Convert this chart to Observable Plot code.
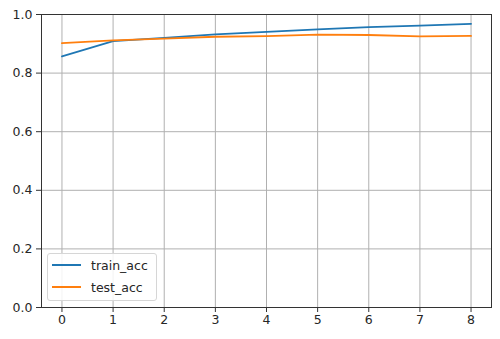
<!DOCTYPE html>
<html>
<head>
<meta charset="utf-8">
<script src="https://cdn.jsdelivr.net/npm/d3@7"></script>
<script src="https://cdn.jsdelivr.net/npm/@observablehq/plot@0.6"></script>
<style>
  html, body { margin: 0; padding: 0; background: #fff; }
  #wrap { position: relative; width: 500px; height: 339px; font-family: "DejaVu Sans", sans-serif; }
  #legend {
    position: absolute; left: 47px; top: 253px; width: 110px; height: 48px;
    border: 1px solid #d6d6d6; border-radius: 3px; background: rgba(255,255,255,0.85);
    box-sizing: border-box; font-size: 12.5px; color: #262626;
  }
  .row { position: absolute; left: 4px; height: 16px; display: flex; align-items: center; }
  .sw { width: 29px; height: 0; border-top: 2px solid; margin-right: 10px; }
</style>
</head>
<body>
<div id="wrap"></div>
<script>
const epochs = [0, 1, 2, 3, 4, 5, 6, 7, 8];
const trainAcc = [0.857, 0.909, 0.920, 0.932, 0.941, 0.949, 0.957, 0.962, 0.968];
const testAcc = [0.902, 0.912, 0.918, 0.924, 0.926, 0.931, 0.930, 0.925, 0.927];
const seriesNames = ["train_acc", "test_acc"];
const seriesColors = ["#1f77b4", "#ff7f0e"];
const xTicks = [0, 1, 2, 3, 4, 5, 6, 7, 8];
const yTicks = [0, 0.2, 0.4, 0.6, 0.8, 1.0];

const rows = [];
epochs.forEach((e, i) => {
  rows.push({epoch: e, acc: trainAcc[i], series: seriesNames[0]});
  rows.push({epoch: e, acc: testAcc[i], series: seriesNames[1]});
});

const chart = Plot.plot({
  width: 500,
  height: 339,
  marginLeft: 41,
  marginTop: 14,
  marginRight: 9,
  marginBottom: 32,
  style: {fontFamily: "DejaVu Sans, sans-serif", fontSize: "12.5px", color: "#262626", background: "#fff"},
  x: {domain: [-0.4, 8.4], ticks: xTicks},
  y: {domain: [0, 1], ticks: yTicks},
  color: {domain: seriesNames, range: seriesColors},
  marks: [
    Plot.gridX(xTicks, {stroke: "#b0b0b0", strokeOpacity: 1, strokeWidth: 1}),
    Plot.gridY(yTicks, {stroke: "#b0b0b0", strokeOpacity: 1, strokeWidth: 1}),
    Plot.line(rows, {x: "epoch", y: "acc", z: "series", stroke: "series", strokeWidth: 1.8}),
    Plot.frame({stroke: "#333", strokeWidth: 1}),
    Plot.axisX(xTicks, {tickSize: 5, tickPadding: 3, fontSize: 12.5, label: null, stroke: "#333"}),
    Plot.axisY(yTicks, {tickSize: 5, tickPadding: 4, fontSize: 12.5, label: null, tickFormat: d3.format(".1f"), stroke: "#333"})
  ]
});

const wrap = document.getElementById("wrap");
wrap.appendChild(chart);

const legend = document.createElement("div");
legend.id = "legend";
seriesNames.forEach((name, i) => {
  const row = document.createElement("div");
  row.className = "row";
  row.style.top = (3 + i * 22) + "px";
  const sw = document.createElement("span");
  sw.className = "sw";
  sw.style.borderTopColor = seriesColors[i];
  const t = document.createElement("span");
  t.textContent = name;
  row.appendChild(sw);
  row.appendChild(t);
  legend.appendChild(row);
});
wrap.appendChild(legend);
</script>
</body>
</html>
